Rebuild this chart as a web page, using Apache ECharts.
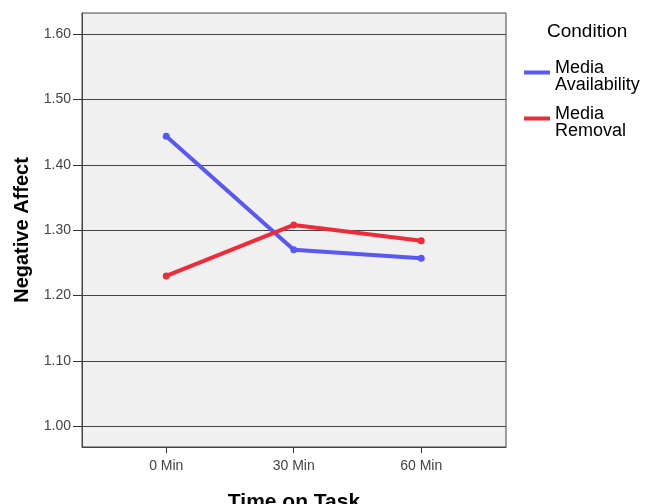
<!DOCTYPE html>
<html><head><meta charset="utf-8">
<script src="https://cdn.jsdelivr.net/npm/echarts@6/dist/echarts.min.js"></script>
<style>html,body{margin:0;padding:0;background:#fff}#c{width:651px;height:504px}</style>
</head><body><div id="c"></div>
<script>
const categories = ['0 Min', '30 Min', '60 Min'];
const mediaAvailability = [1.444, 1.270, 1.257];
const mediaRemoval = [1.230, 1.308, 1.284];
const yTicks = [1.00, 1.10, 1.20, 1.30, 1.40, 1.50, 1.60];
const seriesNames = ['Media\nAvailability', 'Media\nRemoval'];

const FONT = 'Liberation Sans, Arial, sans-serif';
const chart = echarts.init(document.getElementById('c'), null, {renderer: 'canvas'});
const xIdx = categories.map((_, i) => i);
chart.setOption({
  animation: false,
  textStyle: {fontFamily: FONT},
  title: {text: 'Condition', left: 542, top: 17, textStyle: {fontFamily: FONT, fontSize: 19, fontWeight: 'normal', color: '#000'}},
  legend: {
    orient: 'vertical', left: 519, top: 54, itemGap: 11,
    itemWidth: 26, itemHeight: 12, symbolKeepAspect: false,
    icon: 'path://M0,0L26,0L26,4L0,4Z M0,12L0.01,12',
    textStyle: {fontFamily: FONT, fontSize: 18, color: '#000', lineHeight: 17},
    data: seriesNames
  },
  grid: {left: 82, right: 145, top: 13, bottom: 57, containLabel: false, outerBoundsMode: 'none',
         show: true, backgroundColor: '#f0f0f0', borderColor: '#444', borderWidth: 1},
  xAxis: {
    type: 'value', min: -0.661, max: 2.665,
    name: 'Time on Task', nameLocation: 'middle', nameGap: 45,
    nameTextStyle: {fontFamily: FONT, fontSize: 21, fontWeight: 'bold', color: '#000'},
    axisLine: {show: true, onZero: false, lineStyle: {color: '#444'}},
    axisTick: {show: true, length: 6, lineStyle: {color: '#333'}, customValues: xIdx},
    axisLabel: {color: '#444', fontSize: 14, margin: 12, customValues: xIdx, formatter: v => categories[Math.round(v)] || ''},
    splitLine: {show: false}
  },
  yAxis: {
    type: 'value', min: 0.968, max: 1.6326,
    name: 'Negative Affect', nameLocation: 'middle', nameGap: 48, nameRotate: 90,
    nameTextStyle: {fontFamily: FONT, fontSize: 20, fontWeight: 'bold', color: '#000'},
    axisLine: {show: true, onZero: false, lineStyle: {color: '#444'}},
    axisTick: {show: true, length: 9, lineStyle: {color: '#333'}, customValues: yTicks},
    axisLabel: {color: '#444', fontSize: 14, margin: 11, customValues: yTicks, formatter: v => v.toFixed(2)},
    splitLine: {show: true, lineStyle: {color: '#444', width: 1}}
  },
  series: [
    {name: seriesNames[0], type: 'line', data: mediaAvailability.map((v, i) => [xIdx[i], v]),
     color: '#5858f2', symbol: 'circle', symbolSize: 7, lineStyle: {width: 4}},
    {name: seriesNames[1], type: 'line', data: mediaRemoval.map((v, i) => [xIdx[i], v]),
     color: '#ef2b37', symbol: 'circle', symbolSize: 7, lineStyle: {width: 4}}
  ]
});
</script></body></html>
